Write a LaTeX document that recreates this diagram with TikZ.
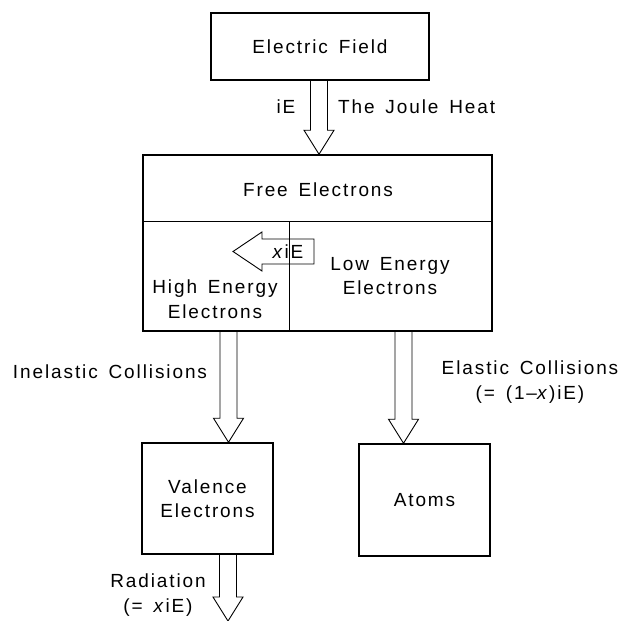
\documentclass[tikz,border=0pt]{standalone}
\usepackage{fontspec}
\setmainfont[LetterSpace=10,WordSpace=1.5]{Liberation Sans}
\usetikzlibrary{calc}
\tikzset{
  box/.style={draw, line width=1.5pt, inner sep=0pt, align=center},
  arr/.style={draw, line width=0.9pt, line join=miter},
  lbl/.style={inner sep=0pt, align=center},
}
% vertical block arrow: #1 = start point of shaft (its x ignored), #2 = tip
\newcommand{\vfat}[2]{%
  \draw[arr] let \p1=(#1), \p2=(#2) in
    (\x2-8.5pt,\y1) -- (\x2-8.5pt,\y2+24pt) -- (\x2-15pt,\y2+24pt) -- (\x2,\y2)
    -- (\x2+15pt,\y2+24pt) -- (\x2+8.5pt,\y2+24pt) -- (\x2+8.5pt,\y1);
}
\begin{document}
\begin{tikzpicture}[x=1pt, y=-1pt, font=\fontsize{19}{24.5}\selectfont]
\useasboundingbox (0,0) rectangle (622,621);

% boxes
\node[box, minimum width=218, minimum height=67] (ef) at (320,46.5) {Electric Field};
\node[box, minimum width=349, minimum height=176] (fe) at (317.5,243) {};
\coordinate (hl) at (143,221);
\coordinate (hr) at (492,221);
\draw[line width=1pt] (hl) -- (hr);
\coordinate (vt) at (289,221);
\draw[line width=1pt] (vt) -- (vt |- fe.south);
\node[lbl] (freeT) at (318,190) {Free Electrons};
\node[lbl] (high) at (215,299) {High Energy\\Electrons};
\node[lbl] (low) at (390,276) {Low Energy\\Electrons};

\node[box, minimum width=131, minimum height=111] (val) at (207.5,498.5) {Valence\\Electrons};
\node[box, minimum width=131, minimum height=112] (atoms) at (424.5,500) {Atoms};

% tips
\coordinate (t1) at ($(fe.north -| ef.south)+(-1,0)$);
\coordinate (t2) at ($(val.north)+(21,0)$);
\coordinate (t3) at ($(atoms.north)+(-21,0)$);
\coordinate (t4) at (228,621);

\vfat{ef.south}{t1}
\vfat{fe.south}{t2}
\vfat{fe.south}{t3}
\vfat{val.south}{t4}

% xiE arrow
\draw[arr] (314,239) -- (262,239) -- (262,232) -- (233,251.5) -- (262,271)
  -- (262,264) -- (314,264) -- cycle;
\node[lbl] (xie) at (288,251.5) {\textit{x}iE};

% labels
\node[lbl] (iE) at (286,107) {iE};
\node[lbl, anchor=west] (joule) at (338,107) {The Joule Heat};
\node[lbl] (inel) at (110,372) {Inelastic Collisions};
\node[lbl] (el) at (530,382) {Elastic Collisions\\(= (1--\textit{x})iE)};
\node[lbl] (rad) at (158,595) {Radiation\\(= \textit{x}iE)};
\end{tikzpicture}
\end{document}
